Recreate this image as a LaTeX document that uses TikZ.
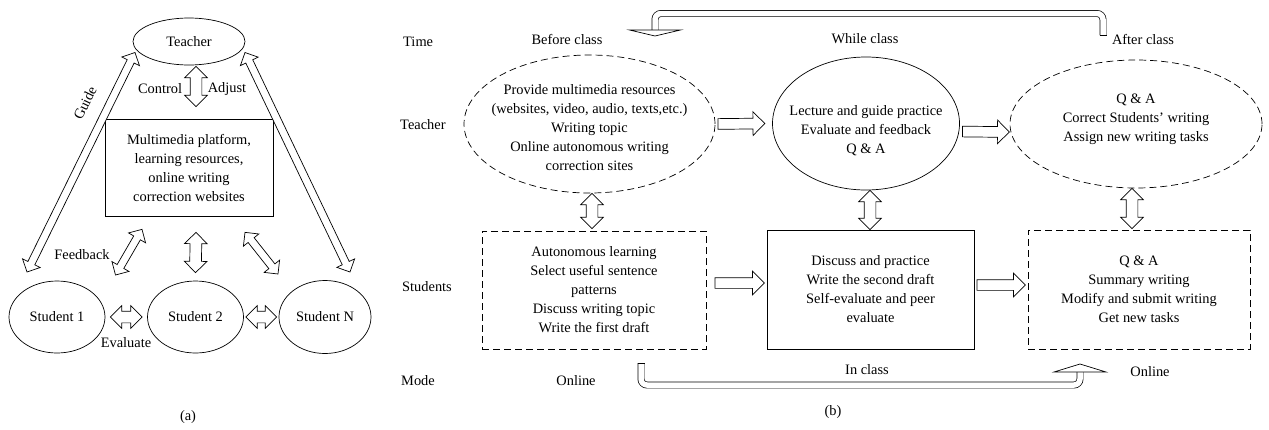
\documentclass[tikz,border=0pt]{standalone}
\usepackage{fontspec}
\setmainfont{Liberation Serif}
\usetikzlibrary{shapes.geometric,shapes.arrows,calc}

% hollow block arrow laid between two points, as long as their distance
\newcommand{\fat}[3][twohead]{%
  \path let \p1=#2, \p2=#3, \n1={veclen(\x2-\x1,\y2-\y1)} in
    (\p1) -- (\p2) node[midway,sloped,allow upside down,#1,minimum height=\n1] {};}

\begin{document}
\begin{tikzpicture}[x=1pt,y=-1pt,font=\fontsize{14.4}{19}\selectfont,
  every node/.append style={align=center,inner sep=0pt},
  oval/.style={ellipse,draw,line width=0.7pt},
  dashoval/.style={oval,dash pattern=on 7pt off 4pt},
  plainbox/.style={rectangle,draw,line width=0.7pt},
  dashbox/.style={plainbox,dash pattern=on 7pt off 4pt},
  twohead/.style={double arrow,draw,line width=0.7pt,fill=white,inner xsep=0pt,inner ysep=5.5pt,
    double arrow head extend=5.5pt,double arrow tip angle=90},
  thinhead/.style={twohead,inner ysep=3.5pt,double arrow head extend=6pt},
  onehead/.style={single arrow,draw,line width=0.7pt,fill=white,inner xsep=0pt,inner ysep=5pt,
    single arrow head extend=6.5pt,single arrow tip angle=90},
  pipe/.style={double,double distance=5.5pt,line width=0.7pt,rounded corners=6pt},
  tipmark/.style={draw,line width=0.7pt,fill=white}]
\useasboundingbox (0,0) rectangle (1269,429);

% (a)
\node[oval,minimum width=112pt,minimum height=47pt] (teacher) at (189,41.5) {};
\node (teacher-t) at (teacher) {Teacher};
\node[plainbox,minimum width=168pt,minimum height=97pt] (media) at (189,167.5)
  {Multimedia platform,\\learning resources,\\online writing\\correction websites};
\node[oval,minimum width=96pt,minimum height=72pt] (s1) at (57,317) {};
\node (s1-t) at (s1) {Student 1};
\node[oval,minimum width=96pt,minimum height=72pt] (s2) at (195.5,317) {};
\node (s2-t) at (s2) {Student 2};
\node[oval,minimum width=92pt,minimum height=73pt] (sN) at (325,317) {};
\node (sN-t) at (sN) {Student N};

\fat{([xshift=7pt,yshift=-1pt]teacher.south)}{([xshift=7pt,yshift=12pt]media.north)}
\fat[thinhead]{($(teacher)+(-54,11)$)}{($(s1)+(-30,-45)$)}
\fat[thinhead]{($(teacher)+(56,11)$)}{($(sN)+(25,-45)$)}
\fat[thinhead]{($(s2)+(-80,-42)$)}{([xshift=-47pt,yshift=-13pt]media.south)}
\fat{([xshift=7pt,yshift=-16pt]media.south)}{([yshift=8pt]s2.north)}
\fat[thinhead]{([xshift=56pt,yshift=-16pt]media.south)}{($(sN)+(-47,-43)$)}
\fat{([xshift=5pt]s1.east)}{([xshift=-5pt]s2.west)}
\fat{([xshift=2pt]s2.east)}{([xshift=-2pt]sN.west)}

\node (control) at (160,89) {Control};
\node (adjust) at (227,89) {Adjust};
\node[rotate=64] (guide) at (85,103) {Guide};
\node (feedback) at (82,255) {Feedback};
\node (evaluate) at (126,343) {Evaluate};
\node (cap-a) at (188,417) {(a)};

% (b)
\node[anchor=west] (time) at (403,42) {Time};
\node[anchor=west] (row-t) at (400,125) {Teacher};
\node[anchor=west] (row-s) at (402,287) {Students};
\node[anchor=west] (mode) at (401,381) {Mode};
\node (before) at (567,39) {Before class};
\node (while) at (865,39) {While class};
\node (after) at (1143,39) {After class};

\node[dashoval,minimum width=251pt,minimum height=138pt] (tbefore) at (589.5,124) {};
\node (tbefore-t) at (589.5,128) {Provide multimedia resources\\(websites, video, audio, texts,etc.)\\Writing topic\\Online autonomous writing\\correction sites};
\node[oval,minimum width=187pt,minimum height=133pt] (twhile) at (866,123.5) {};
\node (twhile-t) at (866,131) {Lecture and guide practice\\Evaluate and feedback\\Q \& A};
\node[dashoval,minimum width=252pt,minimum height=128pt] (tafter) at (1136,124) {};
\node (tafter-t) at (1136,119) {Q \& A\\Correct Students' writing\\Assign new writing tasks};

\node[dashbox,minimum width=224pt,minimum height=118pt] (sbefore) at (594,290)
  {Autonomous learning\\Select useful sentence\\patterns\\Discuss writing topic\\Write the first draft};
\node[plainbox,minimum width=207pt,minimum height=119pt] (swhile) at (870.5,289.5)
  {Discuss and practice\\Write the second draft\\Self-evaluate and peer\\evaluate};
\node[dashbox,minimum width=222pt,minimum height=119pt] (safter) at (1139,289.5)
  {Q \& A\\Summary writing\\Modify and submit writing\\Get new tasks};

\fat[onehead]{(tbefore.east)}{([xshift=-10pt]twhile.west)}
\fat[onehead]{([yshift=-8pt]twhile.east)}{([xshift=-3pt,yshift=-8pt]tafter.west)}
\fat[onehead]{([xshift=6pt,yshift=7pt]sbefore.east)}{([xshift=-5pt,yshift=6.5pt]swhile.west)}
\fat[onehead]{([yshift=4.5pt]swhile.east)}{([xshift=-5pt,yshift=4.5pt]safter.west)}

\fat{([xshift=2.5pt]tbefore.south)}{([xshift=-2pt,yshift=2pt]sbefore.north)}
\fat{([xshift=4pt]twhile.south)}{([xshift=-0.5pt]swhile.north)}
\fat{([xshift=-4pt]tafter.south)}{([xshift=-7pt,yshift=1pt]safter.north)}

% turn-back arrows
\coordinate (loopR) at (1103,35);
\coordinate (loopL) at (655,30);
\draw[pipe] (loopR) -- ++(0,-21.5) -| (loopL);
\draw[tipmark] ($(loopL)+(-25.5,0)$) -- ($(loopL)+(25.5,0)$) -- ($(loopL)+(0,6)$) -- cycle;
\draw[line width=0.7pt] ($(loopR)+(-3.5,0)$) -- ($(loopR)+(3.5,0)$);

\coordinate (modeL) at (641,363);
\coordinate (modeR) at (1080,372);
\draw[pipe] (modeL) -- ++(0,22) -| (modeR);
\draw[tipmark] ($(modeR)+(-26,0)$) -- ($(modeR)+(26,0)$) -- ($(modeR)+(0,-8)$) -- cycle;
\draw[line width=0.7pt] ($(modeL)+(-3.5,0)$) -- ($(modeL)+(3.5,0)$);

\node (inclass) at (867,370) {In class};
\node (online1) at (576,381) {Online};
\node (online2) at (1150,372) {Online};
\node (cap-b) at (833,412) {(b)};
\end{tikzpicture}
\end{document}
